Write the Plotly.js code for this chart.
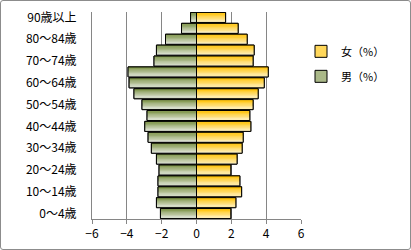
<!DOCTYPE html>
<html>
<head>
<meta charset="utf-8">
<script src="https://cdn.plot.ly/plotly-3.0.1.min.js"></script>
<style>
html,body{margin:0;padding:0;background:#fff;}
#chart{position:absolute;left:0;top:0;width:411px;height:250px;}
#frame{position:absolute;left:0;top:0;width:409px;height:248px;border:1px solid #8c8c8c;border-radius:3px;pointer-events:none;}
</style>
</head>
<body>
<div id="chart"></div>
<div id="frame"></div>
<script>
// Age groups (bottom to top)
const ageGroups = ["0～4歳","5～9歳","10～14歳","15～19歳","20～24歳","25～29歳","30～34歳","35～39歳","40～44歳","45～49歳","50～54歳","55～59歳","60～64歳","65～69歳","70～74歳","75～79歳","80～84歳","85～89歳","90歳以上"];
// Shown tick labels
const shownLabels = ["0～4歳","10～14歳","20～24歳","30～34歳","40～44歳","50～54歳","60～64歳","70～74歳","80～84歳","90歳以上"];
// Female share (%)
const female = [1.97,2.26,2.59,2.49,1.97,2.33,2.62,2.68,3.12,3.06,3.25,3.54,3.89,4.12,3.25,3.31,2.91,2.39,1.67];
// Male share (%), plotted to the left
const male = [-2.07,-2.30,-2.21,-2.21,-2.15,-2.30,-2.59,-2.78,-2.97,-2.84,-3.13,-3.59,-3.87,-3.93,-2.44,-2.30,-1.78,-0.86,-0.34];
const seriesNames = {female:"女（%）", male:"男（%）"};

const W = 0.92, N = 8;
function lerp(a,b,t){return a.map((v,i)=>Math.round(v+(b[i]-v)*t));}
function rgb(c){return "rgb("+c.join(",")+")";}

const fTop=[255,192,0], fBot=[255,243,200];
const mTop=[122,145,66], mBot=[228,232,222];

const font = {family:'"Noto Sans CJK JP", "Noto Sans", sans-serif', size:12, color:"#000"};
const traces = [];
// Legend / base traces
traces.push({type:"bar",orientation:"h",y:ageGroups,x:female,name:seriesNames.female,
  marker:{color:rgb(lerp(fTop,fBot,0.45)),line:{color:"#000",width:1}},width:W,legendgroup:"f",hoverinfo:"x+y"});
traces.push({type:"bar",orientation:"h",y:ageGroups,x:male,name:seriesNames.male,
  marker:{color:rgb(lerp(mTop,mBot,0.45)),line:{color:"#000",width:1}},width:W,legendgroup:"m",hoverinfo:"x+y"});
// gradient stripes
[[female,fTop,fBot],[male,mTop,mBot]].forEach(([vals,top,bot])=>{
  for(let k=0;k<N;k++){
    const t = k/(N-1);
    const w = W/N;
    traces.push({type:"bar",orientation:"h",y:ageGroups,x:vals,showlegend:false,hoverinfo:"skip",
      offset: W/2-(k+1)*w, width: w + (k<N-1?0.01:0),
      marker:{color:rgb(lerp(top,bot,t)),line:{width:0}}});
  }
});
// outlines
[female,male].forEach(vals=>{
  traces.push({type:"bar",orientation:"h",y:ageGroups,x:vals,showlegend:false,hoverinfo:"skip",width:W,
    marker:{color:"rgba(0,0,0,0)",line:{color:"#000",width:1}}});
});

const layout = {
  width:411,height:250,
  margin:{l:92,r:110,t:12,b:31},
  paper_bgcolor:"#fff",plot_bgcolor:"#fff",
  barmode:"overlay",bargap:0.08,
  font:font,
  showlegend:true,
  legend:{x:1.0,xanchor:"left",y:0.88,yanchor:"top",font:{family:font.family,size:11,color:"#000"},
    tracegroupgap:6,bgcolor:"rgba(0,0,0,0)",itemwidth:30},
  xaxis:{range:[-6,6],tickvals:[-6,-4,-2,0,2,4,6],showgrid:true,gridcolor:"#868686",gridwidth:1,
    zeroline:true,zerolinecolor:"#868686",zerolinewidth:1,
    showline:true,linecolor:"#868686",linewidth:1,ticks:"outside",ticklen:4,tickcolor:"#868686",
    tickfont:{family:font.family,size:12,color:"#000"},fixedrange:true},
  yaxis:{type:"category",categoryorder:"array",categoryarray:ageGroups,
    tickmode:"array",tickvals:shownLabels,ticktext:shownLabels,
    showgrid:false,zeroline:false,showline:true,linecolor:"#868686",linewidth:1,ticks:"",
    ticklabelstandoff:12,tickfont:{family:font.family,size:12,color:"#000"},
    range:[-0.5,18.5],fixedrange:true}
};
Plotly.newPlot("chart",traces,layout,{displayModeBar:false,staticPlot:true});
</script>
</body>
</html>
